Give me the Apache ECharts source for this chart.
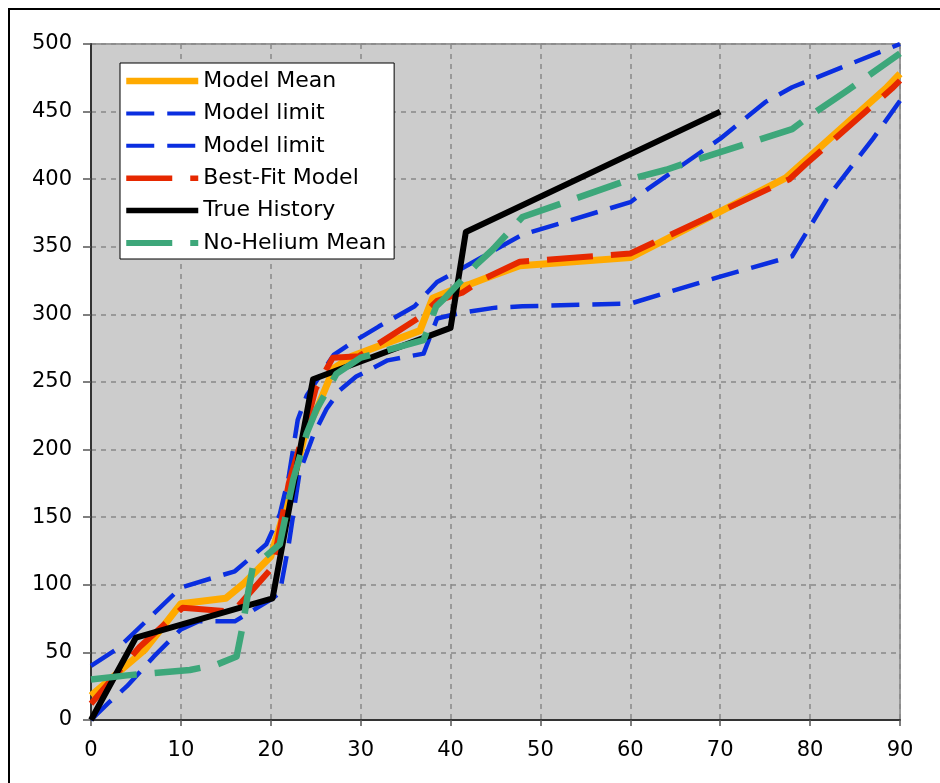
<!DOCTYPE html>
<html>
<head>
<meta charset="utf-8">
<script src="https://cdn.jsdelivr.net/npm/echarts@6/dist/echarts.min.js"></script>
<style>html,body{margin:0;padding:0;background:#fff;}#c{width:940px;height:783px;}</style>
</head>
<body>
<div id="c"></div>
<script>
var seriesNames = ['Model Mean', 'Model limit', 'Model limit ', 'Best-Fit Model', 'True History', 'No-Helium Mean'];
var xTicks = [0, 10, 20, 30, 40, 50, 60, 70, 80, 90];
var yTicks = [0, 50, 100, 150, 200, 250, 300, 350, 400, 450, 500];

var modelMean = [[0,18],[6,52],[10,86],[15,90],[17,101],[20,121],[22.4,174],[24,217],[25,228],[27,260],[29,269],[36.6,288],[38,312],[40.2,318],[42,322],[43.6,326],[47.7,336],[60,342],[77.3,401],[88.4,467],[90,478]];
var upperLimit = [[0,40],[3,53],[10,98],[16,110],[19.5,130],[21,152],[22,180],[23,222],[24,240],[27,270],[29,279],[32,291],[36,306],[38.5,324],[41,333],[45,348],[48,359],[60,383],[62,393],[70,430],[75,457],[78,468],[90,500]];
var lowerLimit = [[0,0],[2,13],[4,25],[7,47],[10,67],[12,73],[16,73],[20,89],[21,94],[22,130],[23.2,183],[24.7,210],[26.2,230],[27.7,244],[29.5,254],[33,266],[37,271],[38.5,297],[41,301],[45,305],[48,306],[60,308],[70,328],[78,343],[82,387],[87,430],[90,458]];
var bestFit = [[0,12],[5.4,54],[10.2,83],[15.8,80],[20.2,113],[22,175],[24,220],[25,245],[26.9,268],[29.8,269],[36.6,298],[38.5,310],[41.3,316],[43.6,326],[47.7,339],[60,345],[77.7,400],[79.5,411],[89.1,467],[90,473]];
var trueHistory = [[0,0],[5,61],[20.2,90],[24.7,252],[40,290],[41.7,361],[70,450]];
var noHelium = [[0,30],[4,33],[11,37],[14,41],[16.2,47],[16.8,67],[17.5,95],[18,113],[21,130],[22.5,178],[24,212],[25.1,230],[27.3,256],[30,268],[37,281],[38.4,306],[39.5,313],[42.9,337],[44.7,348],[48,372],[53.6,385],[60,400],[64,407],[66.2,412],[70,420],[78,437],[80,447],[84,465],[90,493]];

var FONT = 'DejaVu Sans';
var styles = [
  { color: '#ffaa00', width: 7, type: 'solid', z: 2 },
  { color: '#0a2ee0', width: 4.5, type: [28, 13], z: 3 },
  { color: '#0a2ee0', width: 4.5, type: [28, 13], z: 4 },
  { color: '#e62800', width: 6, type: [46, 18], z: 5 },
  { color: '#000000', width: 6, type: 'solid', z: 6 },
  { color: '#3da77a', width: 6.5, type: [46, 18], z: 7 }
];
var datas = [modelMean, upperLimit, lowerLimit, bestFit, trueHistory, noHelium];

var chart = echarts.init(document.getElementById('c'), null, { renderer: 'canvas' });
chart.setOption({
  animation: false,
  graphic: [{
    type: 'rect', shape: { x: 9, y: 9, width: 960, height: 800 },
    style: { fill: 'none', stroke: '#000', lineWidth: 2 }, z: -10
  }],
  grid: { left: 91, top: 44, right: 40, bottom: 63, show: true, backgroundColor: '#cccccc', borderColor: '#999', borderWidth: 2 },
  legend: {
    orient: 'vertical', left: 120, top: 63,
    padding: [7, 8, 5, 3], itemGap: 10.4, itemWidth: 72, itemHeight: 14,
    backgroundColor: '#fff', borderColor: '#000', borderWidth: 1,
    itemStyle: { opacity: 0 },
    textStyle: { fontFamily: FONT, fontSize: 22, color: '#000', lineHeight: 22 },
    data: seriesNames.map(function (n, i) {
      return { name: n, itemStyle: { opacity: 0 },
        lineStyle: { color: styles[i].color, width: styles[i].width - 0.5, type: styles[i].type, cap: 'butt' } };
    })
  },
  xAxis: {
    type: 'value', min: xTicks[0], max: xTicks[xTicks.length - 1], interval: 10,
    axisLine: { show: true, onZero: false, lineStyle: { color: '#333', width: 2 } },
    axisTick: { show: true, length: 6, lineStyle: { color: '#555', width: 1.5 } },
    axisLabel: { fontFamily: FONT, fontSize: 21, color: '#000', margin: 20 },
    splitLine: { show: true, lineStyle: { color: '#888', width: 1.5, type: [5, 5] } }
  },
  yAxis: {
    type: 'value', min: yTicks[0], max: yTicks[yTicks.length - 1], interval: 50,
    axisLine: { show: true, onZero: false, lineStyle: { color: '#333', width: 2 } },
    axisTick: { show: true, length: 8, lineStyle: { color: '#555', width: 1.5 } },
    axisLabel: { fontFamily: FONT, fontSize: 21, color: '#000', margin: 19 },
    splitLine: { show: true, lineStyle: { color: '#888', width: 1.5, type: [5, 5] } }
  },
  series: seriesNames.map(function (n, i) {
    var s = styles[i];
    return {
      name: n, type: 'line', data: datas[i], symbol: 'none', z: s.z,
      lineStyle: { color: s.color, width: s.width, type: s.type, cap: 'butt', join: 'round' },
      itemStyle: { color: s.color },
      emphasis: { disabled: true }, animation: false
    };
  })
});
</script>
</body>
</html>
